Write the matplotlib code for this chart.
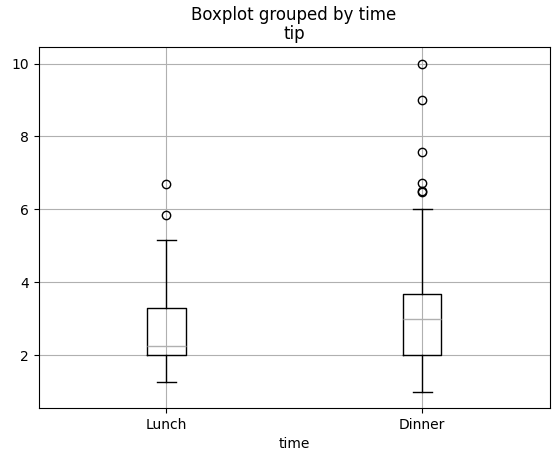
import matplotlib
matplotlib.use("Agg")
import matplotlib.pyplot as plt

# values (tip by time)
groups = ["Lunch", "Dinner"]
whislo = [1.25, 1.0]
q1 = [2.0, 2.0]
med = [2.25, 3.0]
q3 = [3.29, 3.69]
whishi = [5.17, 6.0]
fliers = [[6.7, 5.85], [10.0, 9.0, 7.58, 6.73, 6.5, 6.48]]

stats = []
for i in range(len(groups)):
    stats.append(dict(label=groups[i], whislo=whislo[i], q1=q1[i], med=med[i],
                      q3=q3[i], whishi=whishi[i], fliers=fliers[i]))

fig = plt.figure(figsize=(5.59, 4.62), dpi=100)
ax = fig.add_axes([0.069, 0.117, 0.915, 0.781])
ax.bxp(stats, positions=[1, 2], widths=0.15,
       boxprops=dict(color="black"),
       whiskerprops=dict(color="black"),
       capprops=dict(color="black"),
       medianprops=dict(color="#b0b0b0"),
       flierprops=dict(marker="o", markerfacecolor="none", markeredgecolor="black"))
ax.grid(True)
ax.set_axisbelow(True)
ax.set_title("tip")
ax.set_xlabel("time")
fig.suptitle("Boxplot grouped by time", x=0.526, y=0.987)

plt.savefig("out.png", dpi=100)
